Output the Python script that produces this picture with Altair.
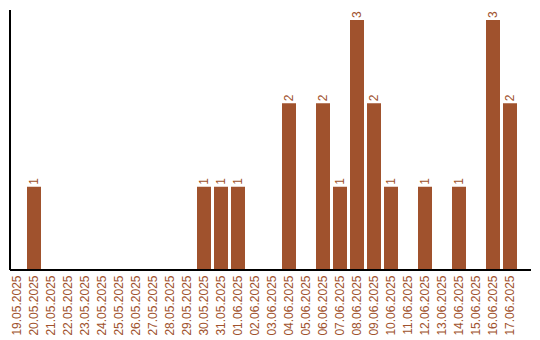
import altair as alt
import pandas as pd

dates = ["19.05.2025", "20.05.2025", "21.05.2025", "22.05.2025", "23.05.2025",
         "24.05.2025", "25.05.2025", "26.05.2025", "27.05.2025", "28.05.2025",
         "29.05.2025", "30.05.2025", "31.05.2025", "01.06.2025", "02.06.2025",
         "03.06.2025", "04.06.2025", "05.06.2025", "06.06.2025", "07.06.2025",
         "08.06.2025", "09.06.2025", "10.06.2025", "11.06.2025", "12.06.2025",
         "13.06.2025", "14.06.2025", "15.06.2025", "16.06.2025", "17.06.2025"]
counts = [0, 1, 0, 0, 0, 0, 0, 0, 0, 0,
          0, 1, 1, 1, 0, 0, 2, 0, 2, 1,
          3, 2, 1, 0, 1, 0, 1, 0, 3, 2]

df = pd.DataFrame({"date": dates, "count": counts})

W, H = 521, 260
COLOR = "#A0522D"
FONT = "Liberation Sans"

xscale = alt.Scale(domain=dates, range=[0, 507], paddingInner=3/17, paddingOuter=0)
yscale = alt.Scale(domain=[0, 3.12], nice=False, zero=True)

base = alt.Chart(df)

bars = base.mark_bar(color=COLOR).encode(
    x=alt.X("date:N", sort=dates, scale=xscale,
            axis=alt.Axis(title=None, ticks=False, domain=False, labelAngle=270,
                          labelAlign="right", labelBaseline="middle",
                          labelPadding=5, labelColor=COLOR, labelFont=FONT,
                          labelFontSize=12, labelOverlap=False)),
    y=alt.Y("count:Q", scale=yscale, axis=None),
)

texts = base.transform_filter(alt.datum["count"] > 0).mark_text(
    angle=270, align="left", baseline="middle", dx=2,
    color=COLOR, font=FONT, fontSize=12
).encode(
    x=alt.X("date:N", sort=dates, scale=xscale),
    y=alt.Y("count:Q", scale=yscale),
    text=alt.Text("count:Q"),
)

bottom = base.mark_rule(color="black", strokeWidth=1.5).encode(
    x=alt.value(0), x2=alt.value(W), y=alt.value(H)
)
left = base.mark_rule(color="black", strokeWidth=1.5).encode(
    x=alt.value(0), y=alt.value(0), y2=alt.value(H)
)

chart = alt.layer(bars, texts, bottom, left).properties(
    width=W, height=H,
    autosize=alt.AutoSizeParams(type="none"),
    padding={"left": 10, "top": 10, "right": 9, "bottom": 70},
).configure_view(stroke=None)

chart.save("out.html", embed_options={"renderer": "svg", "actions": False})
